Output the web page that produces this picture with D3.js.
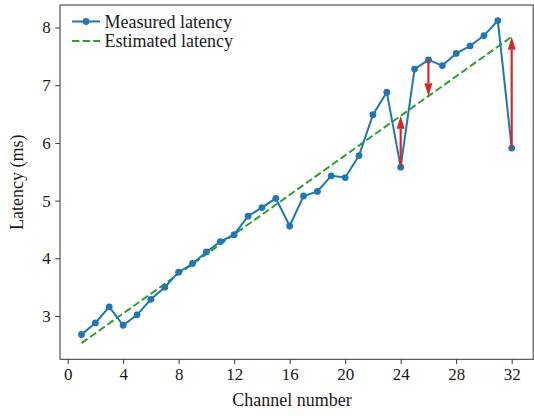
<!DOCTYPE html>
<html>
<head>
<meta charset="utf-8">
<script src="https://cdn.jsdelivr.net/npm/d3@7"></script>
<style>
  body { margin: 0; background: #fff; }
  text { font-family: "Liberation Serif", "Times New Roman", serif; fill: #1a1a1a; }
</style>
</head>
<body>
<script>
// Data
const channels = d3.range(1, 33);
const measured = [2.68, 2.88, 3.16, 2.84, 3.02, 3.29, 3.50, 3.76, 3.91, 4.11,
                  4.29, 4.41, 4.73, 4.88, 5.04, 4.56, 5.08, 5.16, 5.43, 5.40,
                  5.78, 6.49, 6.88, 5.58, 7.28, 7.44, 7.34, 7.55, 7.68, 7.86,
                  8.12, 5.91];
const estimatedX = [1, 32];
const estimatedY = [2.53, 7.84];
const arrowChannels = [24, 26, 32];
const arrowTargets = [6.47, 6.81, 7.84];
const xTicks = [0, 4, 8, 12, 16, 20, 24, 28, 32];
const yTicks = [3, 4, 5, 6, 7, 8];

const W = 534, H = 416;
const plot = {left: 60, right: 533.2, top: 5, bottom: 359.3};

const svg = d3.select("body").append("svg")
  .attr("width", W)
  .attr("height", H);

const x = d3.scaleLinear().domain([-0.55, 33.55]).range([plot.left, plot.right]);
const y = d3.scaleLinear().domain([2.25, 8.39]).range([plot.bottom, plot.top]);

// axes
const xAxis = svg.append("g")
  .attr("transform", `translate(0,${plot.bottom})`)
  .call(d3.axisBottom(x).tickValues(xTicks).tickSize(4.7).tickPadding(4).tickFormat(d3.format("d")));
const yAxis = svg.append("g")
  .attr("transform", `translate(${plot.left},0)`)
  .call(d3.axisLeft(y).tickValues(yTicks).tickSize(4.7).tickPadding(4.5).tickFormat(d3.format("d")));

[xAxis, yAxis].forEach(g => {
  g.select(".domain").remove();
  g.selectAll(".tick line").attr("stroke", "#333").attr("stroke-width", 1);
  g.selectAll(".tick text")
    .style("font-family", '"Liberation Serif", serif')
    .style("font-size", "17px")
    .attr("fill", "#1a1a1a");
});

// frame
svg.append("rect")
  .attr("x", plot.left).attr("y", plot.top)
  .attr("width", plot.right - plot.left).attr("height", plot.bottom - plot.top)
  .attr("fill", "none").attr("stroke", "#333").attr("stroke-width", 1);

// estimated latency
svg.append("path")
  .datum(d3.zip(estimatedX, estimatedY))
  .attr("fill", "none")
  .attr("stroke", "#2ca02c")
  .attr("stroke-width", 2)
  .attr("stroke-dasharray", "7.4,3.2")
  .attr("d", d3.line().x(d => x(d[0])).y(d => y(d[1])));

// measured latency
const pts = d3.zip(channels, measured);
svg.append("path")
  .datum(pts)
  .attr("fill", "none")
  .attr("stroke", "#1f77b4")
  .attr("stroke-width", 2)
  .attr("d", d3.line().x(d => x(d[0])).y(d => y(d[1])));
svg.selectAll(".pt")
  .data(pts)
  .enter()
  .append("circle")
    .attr("class", "pt")
    .attr("cx", d => x(d[0]))
    .attr("cy", d => y(d[1]))
    .attr("r", 3.4)
    .attr("fill", "#1f77b4");

// red arrows from measured to estimated
const headLen = 13, headHalf = 4;
arrowChannels.forEach((c, i) => {
  const cx = x(c);
  const y0 = y(measured[c - 1]);
  const y1 = y(arrowTargets[i]);
  const dir = y1 < y0 ? -1 : 1;
  svg.append("line")
    .attr("x1", cx).attr("x2", cx)
    .attr("y1", y0).attr("y2", y1 - dir * headLen)
    .attr("stroke", "#d62728")
    .attr("stroke-width", 2.2);
  svg.append("path")
    .attr("d", `M${cx},${y1} L${cx - headHalf},${y1 - dir * headLen} L${cx + headHalf},${y1 - dir * headLen} Z`)
    .attr("fill", "#d62728");
});

// legend
const legend = svg.append("g");
const legendRows = [
  {label: "Measured latency", y: 21.5, color: "#1f77b4", dash: null, marker: true},
  {label: "Estimated latency", y: 41, color: "#2ca02c", dash: "7.4,3.2", marker: false}
];
legendRows.forEach(r => {
  legend.append("line")
    .attr("x1", 72).attr("x2", 100)
    .attr("y1", r.y).attr("y2", r.y)
    .attr("stroke", r.color)
    .attr("stroke-width", 2)
    .attr("stroke-dasharray", r.dash);
  if (r.marker) {
    legend.append("circle").attr("cx", 86).attr("cy", r.y).attr("r", 3.4).attr("fill", r.color);
  }
  legend.append("text")
    .attr("x", 104.5).attr("y", r.y + 6)
    .style("font-size", "18px")
    .text(r.label);
});

// axis labels
svg.append("text")
  .attr("x", 292).attr("y", 406)
  .attr("text-anchor", "middle")
  .style("font-size", "18px")
  .text("Channel number");
svg.append("text")
  .attr("transform", `translate(23,${(plot.top + plot.bottom) / 2}) rotate(-90)`)
  .attr("text-anchor", "middle")
  .style("font-size", "18px")
  .text("Latency (ms)");
</script>
</body>
</html>
